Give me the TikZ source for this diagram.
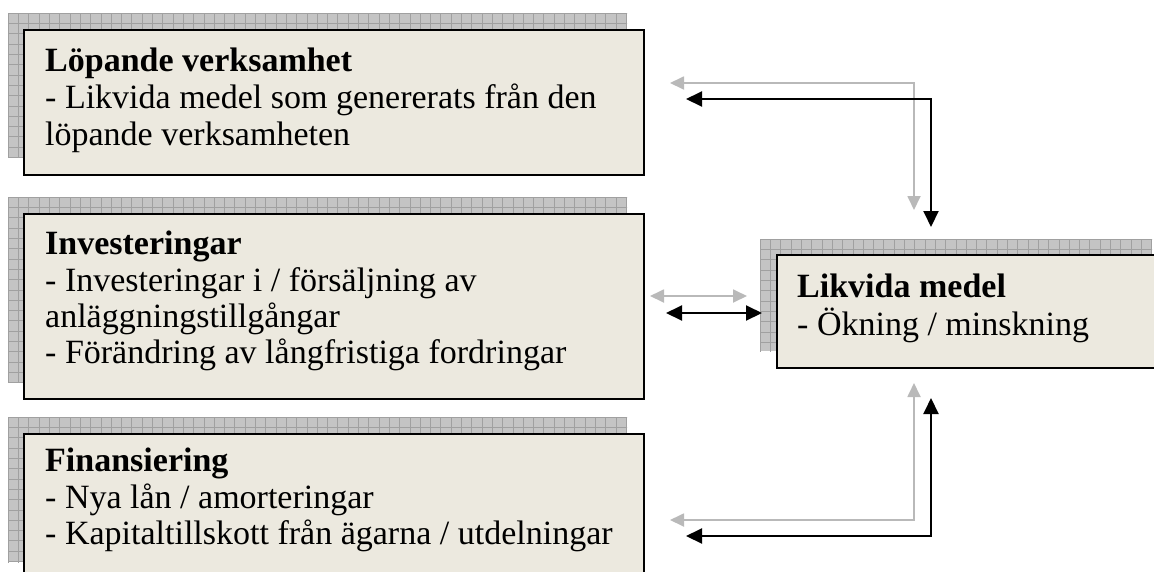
\documentclass[tikz,border=0pt]{standalone}
\usepackage{fontspec}
\setmainfont{Liberation Serif}
\usetikzlibrary{arrows.meta}
\definecolor{boxfill}{RGB}{236,233,223}
\definecolor{shadefill}{RGB}{196,196,196}
\definecolor{shadeline}{RGB}{160,160,160}
\definecolor{grayarrow}{RGB}{185,185,185}
\tikzset{
  frontbox/.style={draw=black, line width=1.6pt, fill=boxfill, anchor=north west, inner sep=0pt},
  shadowbox/.style={fill=shadefill, anchor=north west, inner sep=0pt,
    path picture={\foreach \k in {0,...,62}{
      \draw[shadeline, line width=0.7pt] ([xshift=\k*10.3pt]path picture bounding box.north west) -- ++(0pt,-700pt);
      \draw[shadeline, line width=0.7pt] ([yshift=-\k*10.3pt]path picture bounding box.north west) -- ++(1200pt,0pt);}}},
  txt/.style={anchor=base west, inner sep=0pt, font=\fontsize{34}{37}\selectfont},
  head/.style={txt, font=\fontsize{34}{37}\selectfont\bfseries},
  blackarrow/.style={draw=black, line width=2pt, {Triangle[length=16pt,width=15pt]}-{Triangle[length=16pt,width=15pt]}},
  grayconn/.style={draw=grayarrow, line width=1.8pt, {Triangle[length=14pt,width=13pt]}-{Triangle[length=14pt,width=13pt]}},
}
\begin{document}
\begin{tikzpicture}[x=1pt,y=-1pt]
\clip (0,0) rectangle (1154,571);
\fill[white] (0,0) rectangle (1154,571);

% shadows
\node[shadowbox, minimum width=619pt, minimum height=144pt] (lops) at (8,13) {};
\node[shadowbox, minimum width=619pt, minimum height=185pt] (invs) at (8,197) {};
\node[shadowbox, minimum width=619pt, minimum height=145pt] (fins) at (8,417) {};
\node[shadowbox, minimum width=392pt, minimum height=112pt] (liks) at (760,239) {};

% front boxes
\node[frontbox, minimum width=620pt, minimum height=145pt] (lop) at (23,29) {};
\node[frontbox, minimum width=620pt, minimum height=185pt] (inv) at (23,213) {};
\node[frontbox, minimum width=620pt, minimum height=185pt] (fin) at (23,433) {};
\node[frontbox, minimum width=400pt, minimum height=113pt] (lik) at (776,254) {};

% texts
\node[head] (lop1) at (45,71) {Löpande verksamhet};
\node[txt] (lop2) at (45,108.5) {- Likvida medel som genererats från den};
\node[txt] (lop3) at (45,145) {löpande verksamheten};

\node[head] (inv1) at (45,254) {Investeringar};
\node[txt] (inv2) at (45,291) {- Investeringar i / försäljning av};
\node[txt] (inv3) at (45,327) {anläggningstillgångar};
\node[txt] (inv4) at (45,363) {- Förändring av långfristiga fordringar};

\node[head] (fin1) at (45,471) {Finansiering};
\node[txt] (fin2) at (45,508) {- Nya lån / amorteringar};
\node[txt] (fin3) at (45,544) {- Kapitaltillskott från ägarna / utdelningar};

\node[head] (lik1) at (797,297) {Likvida medel};
\node[txt] (lik2) at (797,335) {- Ökning / minskning};

% connector end points
\coordinate (gt1) at (670,83);  \coordinate (gt2) at (914,210);
\coordinate (bt1) at (686,99);  \coordinate (bt2) at (931,227);
\coordinate (gm1) at (650,296); \coordinate (gm2) at (747,296);
\coordinate (bm1) at (666,313); \coordinate (bm2) at (762,313);
\coordinate (gb1) at (914,383); \coordinate (gb2) at (670,520);
\coordinate (bb1) at (931,398); \coordinate (bb2) at (686,536);

% connectors
\draw[grayconn] (gt1) -| (gt2);
\draw[blackarrow] (bt1) -| (bt2);
\draw[grayconn] (gm1) -- (gm2);
\draw[blackarrow] (bm1) -- (bm2);
\draw[grayconn] (gb1) |- (gb2);
\draw[blackarrow] (bb1) |- (bb2);
\end{tikzpicture}
\end{document}
